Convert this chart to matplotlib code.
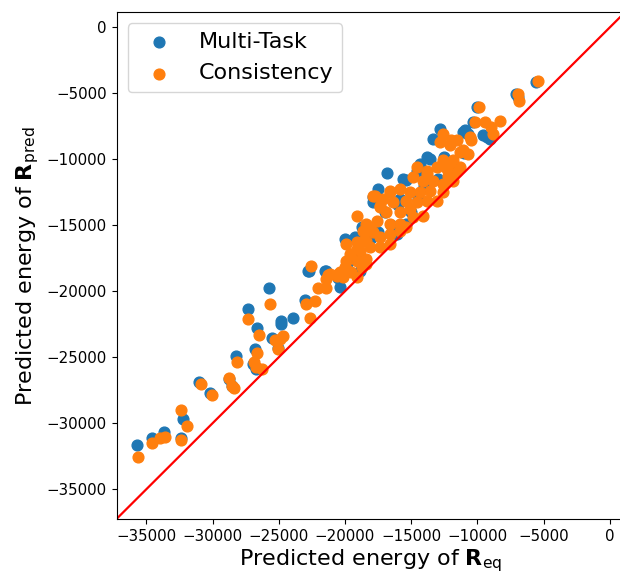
import matplotlib.pyplot as plt
import numpy as np

# predicted energies (x: R_eq, y: R_pred)
multitask_x = [-35670, -34540, -33660, -32400, -32270, -31020, -30190, -28750, -28500, -28250,
               -27320, -26640, -26940, -26690, -26790, -25730, -24870, -25550, -25050, -22710,
               -21450, -23040, -23920, -24800, -20390, -20020, -19260, -19770, -18880, -17880,
               -16110, -15360, -16800, -15610, -15360, -13600, -14600, -17500, -17880, -15860,
               -18750, -5540, -7050, -6950, -10070, -10330, -12840, -13350, -11080, -13840,
               -9310, -10950, -10700, -9570, -9060, -14350, -22790, -21530,
               -17000, -16000, -14000, -13000, -12000, -18000, -19000, -15000, -20500, -11000,
               -12500, -14500, -16500, -17500]
multitask_y = [-31670, -31110, -30660, -31110, -29670, -26880, -27740, -26680, -27190, -24930,
               -21310, -22750, -25540, -25920, -24400, -19760, -22450, -23510, -24270, -18500,
               -18500, -20670, -21990, -22250, -19660, -16040, -15860, -17810, -18450, -13250,
               -15660, -14900, -11020, -11480, -11600, -9960, -10850, -12240, -12870, -13000,
               -15150, -4130, -5020, -5270, -6030, -7170, -7680, -8440, -7930, -9830,
               -8310, -7810, -8060, -8190, -8440, -10340, -18450, -18450,
               -14000, -13500, -12000, -11500, -10500, -16000, -17000, -14000, -19000, -9500,
               -9800, -13000, -15000, -15500]

consistency_x = [-35630, -34540, -33990, -33610, -32400, -32350, -31900, -30870, -30060, -28750,
                 -28530, -28380, -28150, -27290, -26510, -26660, -26890, -26690, -26280, -25680,
                 -25300, -24920, -24680, -25050, -22530, -21280, -22030, -21400, -22910, -22280,
                 -22660, -20390, -19890, -20640, -19890, -19510, -18880, -19130, -18380, -18630,
                 -18130, -18380, -19130, -17880, -17370, -16620, -15860, -14600, -13840, -13090,
                 -12080, -11580, -12840, -12080, -5420, -6930, -6870, -9870, -10200, -9440,
                 -8310, -8940, -8810, -12590, -11580, -10570, -11080, -11840, -11330, -11960,
                 -10450, -11330, -10700, -12590, -12330, -13840, -12210, -14860, -14100, -13350,
                 -12590, -11840, -16620, -15110, -14350, -13600, -12590, -17750, -17120, -16370,
                 -15360, -14600, -13840, -13090, -17370, -16870, -15860, -15110, -14860, -14100,
                 -18380, -17620, -16620, -15860, -15360, -18630, -17880, -17370, -16620, -15860,
                 -19130, -18380, -18880, -18130, -17370, -16620, -19640, -19130, -18380, -19890,
                 -20020, -19510, -18750, -20520, -21150, -21400, -20140, -19130]
consistency_y = [-32560, -31490, -31110, -31010, -31270, -28960, -30230, -27060, -27890, -26580,
                 -27190, -27310, -25380, -22090, -23290, -24650, -25360, -25740, -25920, -20980,
                 -23710, -23640, -23380, -24400, -18070, -18750, -19760, -19760, -20980, -20730,
                 -21990, -18570, -18320, -18830, -16420, -17180, -17690, -16800, -17940, -16170,
                 -15150, -15530, -14270, -12750, -13510, -12490, -12240, -10590, -11100, -10590,
                 -10340, -10850, -8690, -8950, -4080, -5020, -5580, -6030, -7170, -7170,
                 -7100, -7550, -8060, -8060, -8570, -8310, -9330, -10090, -10590, -8570,
                 -8570, -9450, -9580, -10090, -10720, -10850, -11230, -11350, -11610, -11610,
                 -11860, -11610, -12370, -12490, -12490, -12370, -12490, -12750, -13000, -13250,
                 -13130, -13250, -13130, -13130, -13630, -14010, -14010, -13760, -14390, -14270,
                 -14900, -14650, -14900, -14900, -15150, -15410, -15530, -15910, -15660, -15410,
                 -16290, -16170, -16930, -16670, -16670, -16420, -17180, -17690, -17560, -17690,
                 -18190, -18570, -18190, -18700, -18700, -19080, -18950, -18950]

lims = (-37250, 1140)

fig = plt.figure(figsize=(6.2, 5.74), dpi=100)
ax = fig.add_axes([0.188, 0.0953, 0.82, 0.8833])

ax.scatter(multitask_x, multitask_y, s=60, color='tab:blue', label='Multi-Task')
ax.scatter(consistency_x, consistency_y, s=60, color='tab:orange', label='Consistency')
ax.plot(lims, lims, color='red', lw=1.6)

ax.set_xlim(lims)
ax.set_ylim(-37280, 1140)
ax.set_xticks(np.arange(-35000, 1, 5000))
ax.set_yticks(np.arange(-35000, 1, 5000))
ax.tick_params(labelsize=10.8)

ax.set_xlabel(r'Predicted energy of $\mathbf{R}_{\mathrm{eq}}$', fontsize=16, labelpad=2)
ax.set_ylabel(r'Predicted energy of $\mathbf{R}_{\mathrm{pred}}$', fontsize=16)
ax.legend(loc='upper left', fontsize=16)

plt.savefig('out.png', dpi=100)
